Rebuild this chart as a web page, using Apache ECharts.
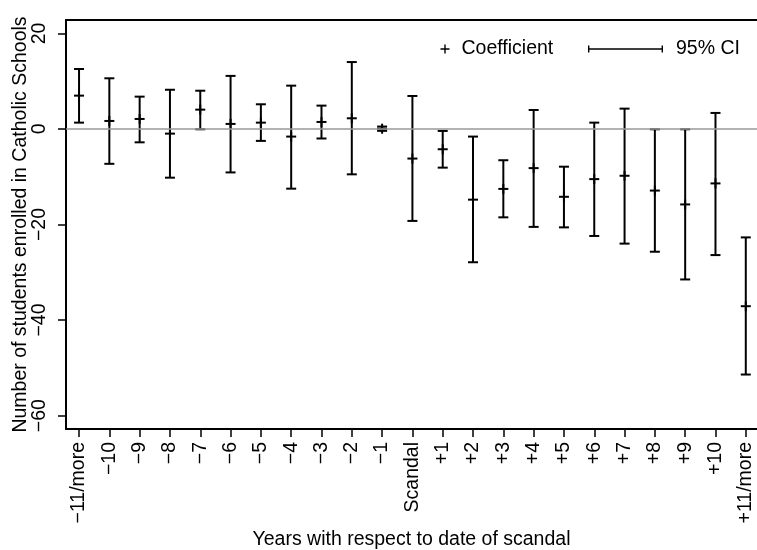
<!DOCTYPE html>
<html>
<head>
<meta charset="utf-8">
<script src="https://cdn.jsdelivr.net/npm/echarts@6/dist/echarts.min.js"></script>
<style>html,body{margin:0;padding:0;background:#fff}#c{width:757px;height:550px}</style>
</head>
<body>
<div id="c"></div>
<script>
const categories = ['−11/more','−10','−9','−8','−7','−6','−5','−4','−3','−2','−1','Scandal','+1','+2','+3','+4','+5','+6','+7','+8','+9','+10','+11/more'];
const coef   = [6.97, 1.67, 2.09, -0.98, 4.04, 1.05, 1.32, -1.6, 1.46, 2.23, 0.05, -6.2, -4.25, -14.8, -12.55, -8.2, -14.2, -10.5, -9.8, -12.9, -15.8, -11.4, -37.1];
const ciLow  = [1.32, -7.3, -2.8, -10.2, -0.07, -9.1, -2.5, -12.5, -2.0, -9.5, -0.4, -19.25, -8.1, -27.9, -18.5, -20.5, -20.6, -22.4, -24.0, -25.7, -31.5, -26.4, -51.4];
const ciHigh = [12.55, 10.6, 6.76, 8.2, 8.0, 11.1, 5.16, 9.06, 4.88, 14.0, 0.5, 6.9, -0.42, -1.6, -6.55, 3.97, -7.9, 1.32, 4.25, -0.07, -0.07, 3.35, -22.7];
const yTicks = [-60, -40, -20, 0, 20];

const FONT = '"Liberation Sans", Arial, Helvetica, sans-serif';
const FS = 19.5;
const xIdx = categories.map((c, i) => i);

const ciData = categories.map((c, i) => [i, ciLow[i], ciHigh[i]]);
const coefData = categories.map((c, i) => [i, coef[i]]);

const chart = echarts.init(document.getElementById('c'), null, {renderer: 'canvas'});

function renderCI(params, api) {
  const x = api.value(0), lo = api.value(1), hi = api.value(2);
  const a = api.coord([x, lo]), b = api.coord([x, hi]);
  const w = 5;
  const st = {stroke: '#000', lineWidth: 2, fill: null};
  return {type: 'group', children: [
    {type: 'line', shape: {x1: a[0], y1: a[1], x2: b[0], y2: b[1]}, style: st},
    {type: 'line', shape: {x1: a[0] - w, y1: a[1], x2: a[0] + w, y2: a[1]}, style: st},
    {type: 'line', shape: {x1: b[0] - w, y1: b[1], x2: b[0] + w, y2: b[1]}, style: st}
  ]};
}
function renderCoef(params, api) {
  const p = api.coord([api.value(0), api.value(1)]);
  const w = 5;
  const st = {stroke: '#000', lineWidth: 2, fill: null};
  return {type: 'group', children: [
    {type: 'line', shape: {x1: p[0] - w, y1: p[1], x2: p[0] + w, y2: p[1]}, style: st},
    {type: 'line', shape: {x1: p[0], y1: p[1] - w, x2: p[0], y2: p[1] + w}, style: st}
  ]};
}

const plusIcon = 'path://M3.8,0H5.2V3.8H9V5.2H5.2V9H3.8V5.2H0V3.8H3.8Z';
const ciIcon = 'path://M0,0H1.4V2.8H73.6V0H75V7H73.6V4.2H1.4V7H0Z';

chart.setOption({
  animation: false,
  textStyle: {fontFamily: FONT},
  grid: {left: 66, right: 0, top: 20, bottom: 121, containLabel: false, outerBoundsMode: 'none'},
  legend: [
    {data: [{name: 'Coefficient', icon: plusIcon}], left: 440.5, top: 39, padding: 0, itemWidth: 9, itemHeight: 9,
     textStyle: {fontSize: FS, color: '#000', fontFamily: FONT, padding: [0, 0, 0, 7]}, selectedMode: false},
    {data: [{name: '95% CI', icon: ciIcon}], left: 588, top: 39, padding: 0, itemWidth: 75, itemHeight: 7,
     textStyle: {fontSize: FS, color: '#000', fontFamily: FONT, padding: [0, 0, 0, 8]}, selectedMode: false}
  ],
  xAxis: [{
    type: 'value', min: -0.43, max: 22.37,
    name: 'Years with respect to date of scandal', nameLocation: 'middle', nameGap: 101, nameMoveOverlap: false,
    nameTextStyle: {fontSize: FS, color: '#000', fontFamily: FONT},
    axisLine: {show: true, onZero: false, lineStyle: {color: '#000', width: 2}},
    axisTick: {show: true, length: 8, customValues: xIdx, lineStyle: {color: '#000', width: 1.5}},
    axisLabel: {show: true, rotate: 90, margin: 13, fontSize: FS, color: '#000', fontFamily: FONT,
      customValues: xIdx, formatter: v => categories[Math.round(v)]},
    splitLine: {show: false}
  }, {
    type: 'value', position: 'top', min: -0.43, max: 22.37,
    axisLine: {show: true, onZero: false, lineStyle: {color: '#000', width: 2}},
    axisTick: {show: false}, axisLabel: {show: false}, splitLine: {show: false}
  }],
  yAxis: {
    type: 'value', min: -62.8, max: 22.8,
    name: 'Number of students enrolled in Catholic Schools', nameLocation: 'middle', nameGap: 35, nameMoveOverlap: false,
    nameTextStyle: {fontSize: FS, color: '#000', fontFamily: FONT},
    axisLine: {show: true, onZero: false, lineStyle: {color: '#000', width: 2}},
    axisTick: {show: true, length: 8, customValues: yTicks, lineStyle: {color: '#000', width: 1.5}},
    axisLabel: {show: true, rotate: 90, margin: 16, fontSize: FS, color: '#000', fontFamily: FONT,
      customValues: yTicks, formatter: v => (v < 0 ? '−' + Math.abs(v) : String(v))},
    splitLine: {show: false}
  },
  series: [
    {type: 'line', data: [], silent: true, z: 1,
     markLine: {silent: true, symbol: 'none', label: {show: false},
       lineStyle: {color: '#999', width: 1.6, type: 'solid'}, data: [{yAxis: 0}]}},
    {name: '95% CI', type: 'custom', renderItem: renderCI, data: ciData, z: 3, itemStyle: {color: '#000'},
     encode: {x: 0, y: [1, 2]}},
    {name: 'Coefficient', type: 'custom', renderItem: renderCoef, data: coefData, z: 4, itemStyle: {color: '#000'},
     encode: {x: 0, y: 1}}
  ]
});
</script>
</body>
</html>
